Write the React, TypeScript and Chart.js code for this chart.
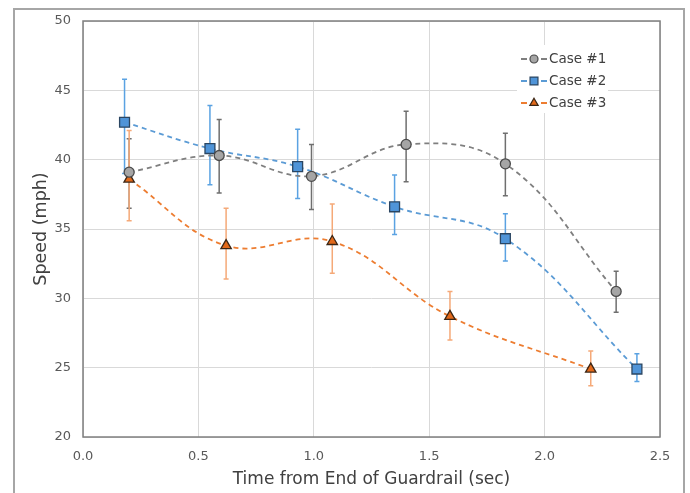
import React, { useEffect, useRef } from 'react';
import { Chart, registerables } from 'chart.js';
import { drawPoint } from 'chart.js/helpers';

Chart.register(...registerables);

// ---- data ----
const seriesLabels = ['Case #1', 'Case #2', 'Case #3'];

const case1X = [0.2, 0.59, 0.99, 1.4, 1.83, 2.31];
const case1Y = [39.1, 40.3, 38.8, 41.1, 39.7, 30.5];
const case1Lo = [36.5, 37.6, 36.4, 38.4, 37.4, 29.0];
const case1Hi = [41.5, 42.9, 41.1, 43.5, 41.9, 31.95];

const case2X = [0.18, 0.55, 0.93, 1.35, 1.83, 2.4];
const case2Y = [42.7, 40.8, 39.5, 36.6, 34.3, 24.9];
const case2Lo = [39.0, 38.2, 37.2, 34.6, 32.7, 24.0];
const case2Hi = [45.8, 43.9, 42.2, 38.9, 36.1, 26.0];

const case3X = [0.2, 0.62, 1.08, 1.59, 2.2];
const case3Y = [38.6, 33.8, 34.1, 28.7, 24.9];
const case3Lo = [35.6, 31.4, 31.8, 27.0, 23.7];
const case3Hi = [42.1, 36.5, 36.8, 30.5, 26.2];

const xTitle = 'Time from End of Guardrail (sec)';
const yTitle = 'Speed (mph)';

const FONT = "'DejaVu Sans', sans-serif";

export default function App() {
  const ref = useRef<HTMLCanvasElement>(null);

  useEffect(() => {
    document.body.style.margin = '0';
    const canvas = ref.current;
    if (!canvas) return;

    const mk = (xs: number[], ys: number[]) => xs.map((x, i) => ({ x, y: ys[i] }));

    const datasets: any[] = [
      {
        label: seriesLabels[0],
        data: mk(case1X, case1Y),
        lo: case1Lo,
        hi: case1Hi,
        errColor: '#6f6f6f',
        borderColor: '#7f7f7f',
        pointBackgroundColor: '#a5a5a5',
        pointBorderColor: '#4a4a4a',
        pointStyle: 'circle',
        pointRadius: 5,
      },
      {
        label: seriesLabels[1],
        data: mk(case2X, case2Y),
        lo: case2Lo,
        hi: case2Hi,
        errColor: '#5aa2e2',
        borderColor: '#5b9bd5',
        pointBackgroundColor: '#4f94d8',
        pointBorderColor: '#2b4662',
        pointStyle: 'rect',
        pointRadius: 7,
      },
      {
        label: seriesLabels[2],
        data: mk(case3X, case3Y),
        lo: case3Lo,
        hi: case3Hi,
        errColor: '#f5a978',
        borderColor: '#ed7d31',
        pointBackgroundColor: '#e2691a',
        pointBorderColor: '#3a2616',
        pointStyle: 'triangle',
        pointRadius: 6,
      },
    ].map((d) => ({
      ...d,
      borderWidth: 1.8,
      borderDash: [5, 4],
      tension: 0.4,
      fill: false,
      showLine: true,
      pointBorderWidth: 1.3,
      pointHoverRadius: d.pointRadius,
    }));

    const framePlugin = {
      id: 'frame',
      beforeDraw(chart: any) {
        const c = chart.ctx;
        c.save();
        c.fillStyle = '#ffffff';
        c.fillRect(0, 0, chart.width, chart.height);
        c.strokeStyle = '#a6a6a6';
        c.lineWidth = 2;
        c.strokeRect(14, 9, 670, 500);
        c.restore();
      },
    };

    const errorPlugin = {
      id: 'errbars',
      beforeDatasetsDraw(chart: any) {
        const c = chart.ctx;
        const xs = chart.scales.x;
        const ys = chart.scales.y;
        const a = chart.chartArea;
        c.save();
        // plot border
        c.strokeStyle = '#7f7f7f';
        c.lineWidth = 1.5;
        c.strokeRect(a.left, a.top, a.right - a.left, a.bottom - a.top);
        chart.data.datasets.forEach((ds: any) => {
          c.strokeStyle = ds.errColor;
          c.lineWidth = 1.5;
          ds.data.forEach((p: any, j: number) => {
            const px = xs.getPixelForValue(p.x);
            const y1 = ys.getPixelForValue(ds.lo[j]);
            const y2 = ys.getPixelForValue(ds.hi[j]);
            c.beginPath();
            c.moveTo(px, y1);
            c.lineTo(px, y2);
            c.moveTo(px - 2.5, y1);
            c.lineTo(px + 2.5, y1);
            c.moveTo(px - 2.5, y2);
            c.lineTo(px + 2.5, y2);
            c.stroke();
          });
        });
        c.restore();
      },
    };

    const legendPlugin = {
      id: 'customLegend',
      afterDraw(chart: any) {
        const c = chart.ctx;
        c.save();
        c.fillStyle = '#ffffff';
        c.fillRect(517, 45, 91, 68);
        const rows = [59, 81, 103];
        chart.data.datasets.forEach((ds: any, i: number) => {
          const y = rows[i];
          c.strokeStyle = ds.borderColor;
          c.lineWidth = 1.8;
          c.setLineDash([6, 4]);
          c.beginPath();
          c.moveTo(521, y);
          c.lineTo(547, y);
          c.stroke();
          c.setLineDash([]);
          c.fillStyle = ds.pointBackgroundColor;
          c.strokeStyle = ds.pointBorderColor;
          c.lineWidth = 1.2;
          drawPoint(c, { pointStyle: ds.pointStyle, radius: ds.pointRadius * 0.8, rotation: 0, borderWidth: 1.2 } as any, 534, y);
          c.fillStyle = '#404040';
          c.font = `13.5px ${FONT}`;
          c.textBaseline = 'middle';
          c.textAlign = 'left';
          c.fillText(ds.label, 549, y + 0.5);
        });
        c.restore();
      },
    };

    const chart = new Chart(canvas, {
      type: 'line',
      data: { datasets },
      plugins: [framePlugin, errorPlugin, legendPlugin],
      options: {
        animation: false,
        responsive: false,
        maintainAspectRatio: false,
        devicePixelRatio: 1,
        layout: { padding: { left: 0, top: 21, right: 30, bottom: 0 } },
        plugins: {
          legend: { display: false },
          tooltip: { enabled: false },
        },
        scales: {
          x: {
            type: 'linear',
            min: 0,
            max: 2.5,
            ticks: {
              stepSize: 0.5,
              callback: (v: any) => Number(v).toFixed(1),
              font: { family: FONT, size: 13 },
              color: '#595959',
              padding: 12,
              maxRotation: 0,
            },
            grid: { color: '#d9d9d9', lineWidth: 1, drawTicks: false },
            border: { display: false },
            title: {
              display: true,
              text: xTitle,
              font: { family: FONT, size: 17 },
              color: '#404040',
              padding: { top: 0, bottom: 3 },
            },
            afterFit: (s: any) => {
              s.height = 56;
            },
          },
          y: {
            type: 'linear',
            min: 20,
            max: 50,
            ticks: {
              stepSize: 5,
              font: { family: FONT, size: 13 },
              color: '#595959',
              padding: 12,
            },
            grid: { color: '#d9d9d9', lineWidth: 1, drawTicks: false },
            border: { display: false },
            title: {
              display: true,
              text: yTitle,
              font: { family: FONT, size: 17.5 },
              color: '#404040',
              padding: { top: 31, bottom: 0 },
            },
            afterFit: (s: any) => {
              s.width = 83;
            },
          },
        },
      } as any,
    });

    return () => chart.destroy();
  }, []);

  return (
    <div style={{ width: 690, height: 493 }}>
      <canvas ref={ref} width={690} height={493} style={{ display: 'block', width: 690, height: 493 }} />
    </div>
  );
}
